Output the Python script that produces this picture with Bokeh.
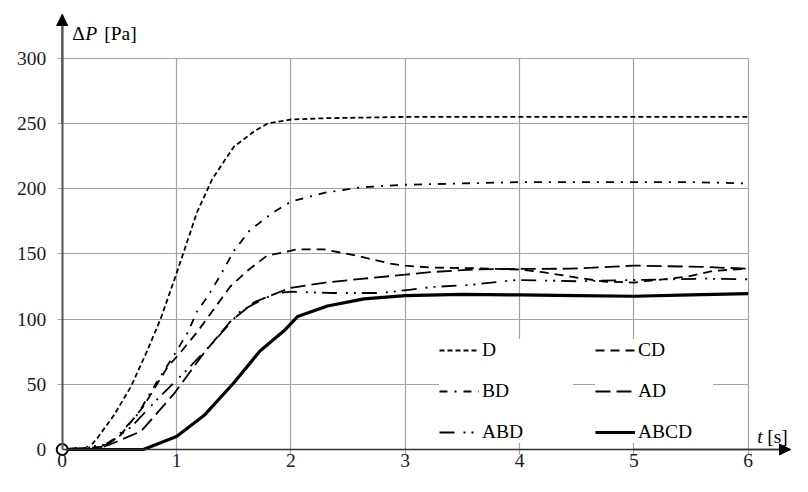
from bokeh.plotting import figure
from bokeh.models import (Range1d, LinearAxis, FixedTicker, Grid, Legend, LegendItem,
                          Label, Arrow, NormalHead)
from bokeh.embed import file_html
from bokeh.resources import INLINE

# ---------------- data ----------------
x_ticks = [0, 1, 2, 3, 4, 5, 6]
y_ticks = [0, 50, 100, 150, 200, 250, 300]

t_D = [0, 0.22, 0.31, 0.45, 0.60, 0.74, 0.86, 1.0, 1.18, 1.31, 1.5, 1.68, 1.8, 2.0, 2.3, 3.0, 4.0, 5.0, 6.0]
p_D = [0, 0, 9, 26, 48, 75, 100, 135, 182, 207, 232, 244, 250, 253, 254, 255, 255, 255, 255]

t_CD = [0, 0.34, 0.51, 0.71, 0.92, 1.03, 1.18, 1.33, 1.47, 1.62, 1.79, 2.06, 2.29, 2.58, 2.87, 3.0, 3.22,
        3.6, 4.0, 4.2, 4.45, 4.74, 5.0, 5.47, 5.7, 6.0]
p_CD = [0, 2, 11, 33, 63, 74, 90, 108, 125, 137, 148.5, 153.5, 153.5, 148.5, 142.5, 141, 139.5,
        139, 138, 136, 132.5, 128.7, 128, 132.5, 137, 138.6]

t_BD = [0, 0.3, 0.45, 0.66, 0.83, 0.99, 1.1, 1.18, 1.27, 1.38, 1.5, 1.64, 1.85, 2.0, 2.3, 2.61,
        3.0, 3.5, 4.0, 5.0, 5.5, 6.0]
p_BD = [0, 0, 7, 27, 52, 74, 90, 106, 117, 133, 152, 168, 182, 190, 197, 201,
        203, 204, 205, 205, 205, 204]

t_AD = [0, 0.3, 0.45, 0.69, 0.98, 1.24, 1.47, 1.68, 1.88, 2.0, 2.3, 2.64, 3.0, 3.22, 3.6, 4.0,
        4.45, 5.0, 5.6, 6.0]
p_AD = [0, 0, 5, 14, 43, 74, 98, 113, 120, 124, 128, 131, 134, 136, 138, 138.5,
        138.6, 141, 140, 138.6]

t_ABD = [0, 0.39, 0.6, 0.86, 1.09, 1.33, 1.56, 1.75, 1.88, 2.0, 2.35, 2.79, 3.05, 3.22, 3.54,
         3.98, 4.5, 5.03, 5.61, 6.0]
p_ABD = [0, 3.7, 17, 41, 61, 83, 106, 115, 120, 121, 120, 120, 122.5, 124.5, 126,
         130, 129, 130, 131, 130.5]

t_ABCD = [0, 0.71, 1.0, 1.24, 1.5, 1.73, 1.94, 2.06, 2.32, 2.64, 3.0, 3.5, 4.0, 4.5, 5.0, 5.5, 6.0]
p_ABCD = [0, 0, 10, 26, 51, 75.5, 91, 102, 110, 115.5, 118, 119, 118.5, 118, 117.5, 118.5, 119.5]

# ---------------- figure ----------------
FONT = "Liberation Serif"
FS = "19.5px"

W, H = 792, 476
x0_px, x_scale = 61.7, 114.33       # pixel of t=0, px per second
y0_px, y_scale = 449.0, 1.3043      # pixel of dP=0, px per Pa
x_start, x_end = -x0_px / x_scale, (W - x0_px) / x_scale
y_start, y_end = -(H - y0_px) / y_scale, y0_px / y_scale
x_arrow = (790 - x0_px) / x_scale
y_arrow = (y0_px - 14) / y_scale

p = figure(width=W, height=H, x_range=Range1d(x_start, x_end), y_range=Range1d(y_start, y_end),
           output_backend="svg", toolbar_location=None, tools="",
           x_axis_type=None, y_axis_type=None, min_border=0,
           min_border_left=0, min_border_right=0, min_border_top=0, min_border_bottom=0)
p.outline_line_color = None
p.background_fill_color = "white"
p.border_fill_color = "white"

# grids (extending 5 px beyond the axes as tick marks)
xgrid = Grid(dimension=0, ticker=FixedTicker(ticks=x_ticks), bounds=(-0.01, 6.01),
             cross_bounds=(-5 / y_scale, 300), grid_line_color="#a3a3a3", grid_line_width=1.2)
ygrid = Grid(dimension=1, ticker=FixedTicker(ticks=y_ticks), bounds=(-1, 301),
             cross_bounds=(-5 / x_scale, 6), grid_line_color="#a3a3a3", grid_line_width=1.2)
p.add_layout(xgrid)
p.add_layout(ygrid)

# axes
xaxis = LinearAxis(ticker=FixedTicker(ticks=x_ticks), fixed_location=0, bounds=(0, x_arrow),
                   axis_line_color="#333333", axis_line_width=1.5,
                   major_tick_out=0, major_tick_in=0, minor_tick_out=0, minor_tick_in=0,
                   major_label_standoff=4, major_label_text_font=FONT,
                   major_label_text_font_size=FS, major_label_text_color="#1a1a1a")
yaxis = LinearAxis(ticker=FixedTicker(ticks=y_ticks), fixed_location=0, bounds=(0, y_arrow),
                   axis_line_color="#555555", axis_line_width=2,
                   major_tick_out=0, major_tick_in=0, minor_tick_out=0, minor_tick_in=0,
                   major_label_standoff=16, major_label_text_font=FONT,
                   major_label_text_font_size=FS, major_label_text_color="#1a1a1a")
p.add_layout(xaxis, "below")
p.add_layout(yaxis, "left")

# axis arrows
p.add_layout(Arrow(end=NormalHead(size=11, fill_color="black", line_color="black"),
                   x_start=5.0, y_start=0, x_end=x_arrow, y_end=0,
                   line_color="#333333", line_width=1.5))
p.add_layout(Arrow(end=NormalHead(size=11, fill_color="black", line_color="black"),
                   x_start=0, y_start=250, x_end=0, y_end=y_arrow,
                   line_color="#555555", line_width=2))

# series
LW = 1.8
rD = p.line(t_D, p_D, line_color="black", line_width=LW, line_dash="5 3")
rCD = p.line(t_CD, p_CD, line_color="black", line_width=LW, line_dash="9 6")
rBD = p.line(t_BD, p_BD, line_color="black", line_width=LW, line_dash="8 7 2 7")
rAD = p.line(t_AD, p_AD, line_color="black", line_width=LW, line_dash="15 6")
rABD = p.line(t_ABD, p_ABD, line_color="black", line_width=LW, line_dash="15 9 2 6 2 6")
rABCD = p.line(t_ABCD, p_ABCD, line_color="black", line_width=3.2)

# origin marker
p.scatter([t_ABCD[0]], [p_ABCD[0]], marker="circle", size=11, fill_color="white",
          line_color="black", line_width=2)

# legends (two columns)
common = dict(orientation="vertical", padding=11, spacing=19, glyph_width=40, glyph_height=20,
              label_height=20, label_standoff=3, background_fill_color="white",
              background_fill_alpha=1.0, border_line_color=None, margin=0,
              label_text_font=FONT, label_text_font_size=FS, label_text_color="black")
leg1 = Legend(items=[LegendItem(label="D", renderers=[rD]),
                     LegendItem(label="BD", renderers=[rBD]),
                     LegendItem(label="ABD", renderers=[rABD])],
              location=(439, 33), label_width=91, **common)
leg2 = Legend(items=[LegendItem(label="CD", renderers=[rCD]),
                     LegendItem(label="AD", renderers=[rAD]),
                     LegendItem(label="ABCD", renderers=[rABCD])],
              location=(595, 33), label_width=75, **common)
p.add_layout(leg1)
p.add_layout(leg2)

# axis titles
lab_kw = dict(text_font=FONT, text_font_size=FS, text_color="black", text_baseline="alphabetic")
ytitle_y = (y0_px - 32.7) / y_scale
p.add_layout(Label(x=0, y=ytitle_y, x_offset=10, text="Δ", **lab_kw))
p.add_layout(Label(x=0, y=ytitle_y, x_offset=23, text="P", text_font_style="italic", **lab_kw))
p.add_layout(Label(x=0, y=ytitle_y, x_offset=42, text="[Pa]", **lab_kw))
xtitle_y = 13.4 / y_scale
p.add_layout(Label(x=6, y=xtitle_y, x_offset=9, text="t", text_font_style="italic", **lab_kw))
p.add_layout(Label(x=6, y=xtitle_y, x_offset=19, text="[s]", **lab_kw))

with open("out.html", "w", encoding="utf-8") as f:
    f.write(file_html(p, INLINE))
